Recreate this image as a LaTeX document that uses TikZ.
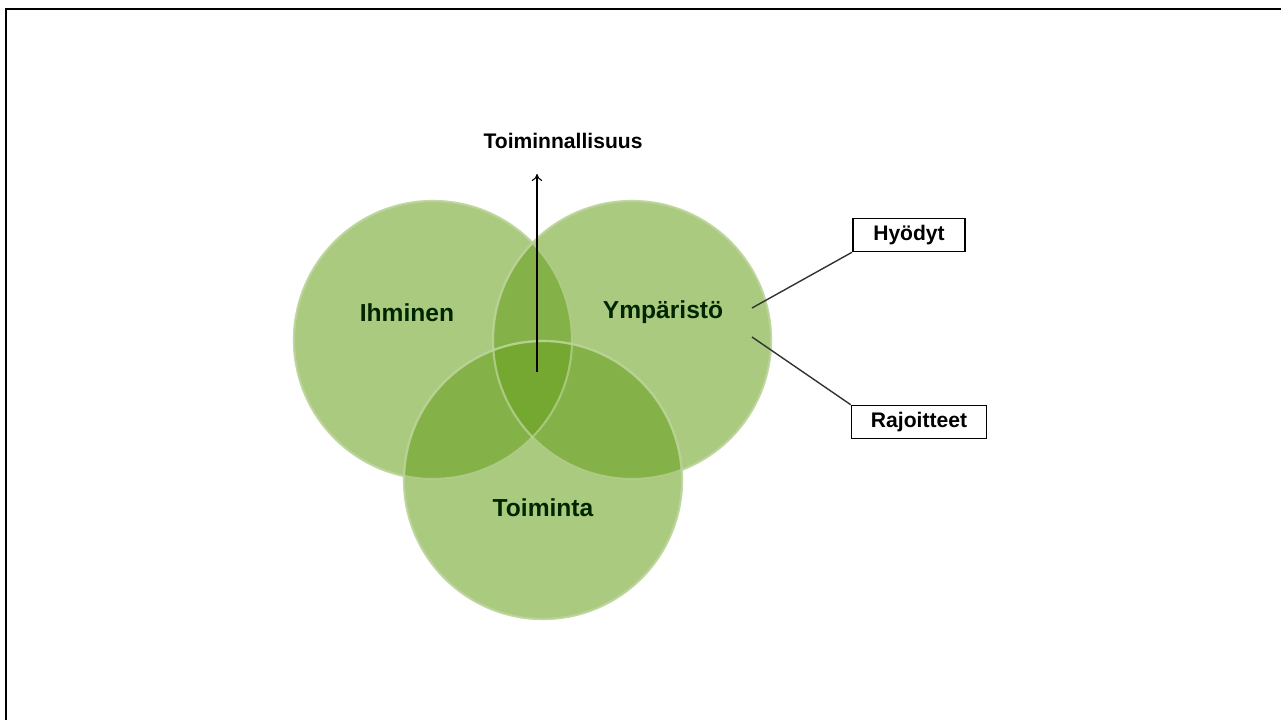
\documentclass[tikz,border=0pt]{standalone}
\usepackage{fontspec}
\setmainfont{Liberation Sans}
\usepackage{tikz}
\usetikzlibrary{arrows.meta}
\definecolor{vennGreen}{RGB}{104,160,28}
\tikzset{
  venn/.style={fill=vennGreen,fill opacity=0.56,draw=vennGreen!45!white,draw opacity=0.7,line width=1.2pt},
  lbl/.style={font=\bfseries\fontsize{14}{16}\selectfont,text=black!85!green},
  tagbox/.style={draw,line width=0.9pt,font=\bfseries\fontsize{12}{14}\selectfont,minimum width=2.25cm,minimum height=0.66cm,inner sep=2pt}
}
\begin{document}
\begin{tikzpicture}[x=0.02cm,y=-0.02cm]
    \useasboundingbox (0,0) rectangle (1281,720);
    \draw [line width=1.7pt] (6,720)--(6,9)--(1281,9);

    \fill [venn] (433,340) circle (139);
    \fill [venn] (632,340) circle (139);
    \fill [venn] (543,480) circle (139);
    \draw [venn,fill=none] (433,340) circle (139);
    \draw [venn,fill=none] (632,340) circle (139);
    \draw [venn,fill=none] (543,480) circle (139);

    \node [lbl] (ihminen) at (407,313) {Ihminen};
    \node [lbl] (ymparisto) at (663,312) {Ympäristö};
    \node [lbl] (toiminta) at (543,508) {Toiminta};
    \node [lbl,text=black,font=\bfseries\fontsize{12}{14}\selectfont] (toim) at (563,141) {Toiminnallisuus};

    \coordinate (core) at (537,372);
    \draw [-{To[length=4pt,width=6pt]},semithick] (core)--(537,174);

    \node [tagbox,minimum width=2.25cm] (hyodyt) at (909,235) {Hyödyt};
    \node [tagbox,minimum width=2.7cm] (rajoitteet) at (919,422) {Rajoitteet};
    \coordinate (hyoEnd) at (752,308);
    \coordinate (rajEnd) at (752,337);
    \draw [thick,black!80] (hyoEnd)--(hyodyt.south west);
    \draw [thick,black!80] (rajEnd)--(rajoitteet.north west);
\end{tikzpicture}
\end{document}
